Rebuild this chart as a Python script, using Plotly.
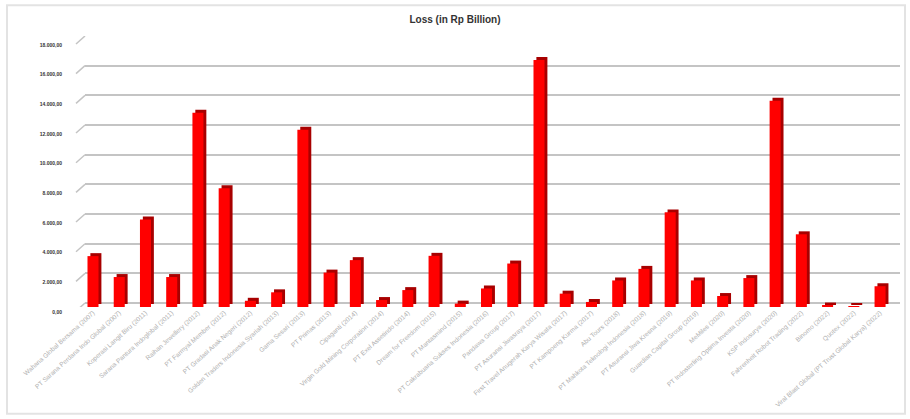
import plotly.graph_objects as go

categories = [
    "Wahana Global Bersama (2007)",
    "PT Sarana Perdana Indo Global (2007)",
    "Koperasi Langit Biru (2011)",
    "Sarana Pantura Indoglobal (2011)",
    "Raihan Jewellery (2012)",
    "PT Farmyal Member (2012)",
    "PT Gradasi Anak Negeri (2012)",
    "Golden Traders Indonesia Syariah (2013)",
    "Gama Sesari (2013)",
    "PT Primas (2013)",
    "Cipaganti (2014)",
    "Virgin Gold Mining Corporation (2014)",
    "PT Exel Assetindo (2014)",
    "Dream for Freedom (2015)",
    "PT Mantasmind (2015)",
    "PT Cakrabuana Sukses Indonesia (2016)",
    "Pandawa Group (2017)",
    "PT Asuransi Jiwasraya (2017)",
    "First Travel Anugerah Karya Wisata (2017)",
    "PT Kampoeng Kurma (2017)",
    "Abu Tours (2018)",
    "PT Mahkota Teknologi Indonesia (2018)",
    "PT Asuransi Jiwa Kresna (2019)",
    "Guardian Capital Group (2019)",
    "MeMiles (2020)",
    "PT Indosterling Optima Investa (2020)",
    "KSP Indosurya (2020)",
    "Fahrenheit Robot Trading (2022)",
    "Binomo (2022)",
    "Quotex (2022)",
    "Viral Blast Global (PT Trust Global Karya) (2022)",
]

loss = [
    3430, 2020, 5900, 2020, 13100, 8000, 420, 990, 11950, 2320,
    3160, 470, 1140, 3450, 230, 1250, 2930, 16650, 900, 340,
    1790, 2570, 6380, 1790, 740, 1950, 13900, 4900, 100, 50,
    1400,
]

y_ticks = [0, 2000, 4000, 6000, 8000, 10000, 12000, 14000, 16000, 18000]

title_text = "Loss (in Rp Billion)"

W, H = 910, 419
ML, MR, MT = 85, 10, 36
px_per_unit = 270 / (y_ticks[-1] - y_ticks[0])      # back-wall scale (30 px per step)
front_drop = 4 / px_per_unit                          # bars stand 4 px in front of wall
y_min = -front_drop
plot_h = (y_ticks[-1] - y_min) * px_per_unit
MB = H - MT - plot_h
depth_units = 3 / px_per_unit

idx = list(range(len(categories)))
x_range = [-0.305, len(categories) - 1 + 0.76]
grid_color = "#c4c4c4"

fig = go.Figure()

# dark side (depth) of each bar
fig.add_trace(go.Bar(
    x=idx, y=loss, base=y_min + depth_units,
    width=0.42, offset=-0.10,
    marker=dict(color="#a80000", line=dict(width=0)),
    hoverinfo="skip", showlegend=False,
))
# front face
fig.add_trace(go.Bar(
    x=idx, y=loss, base=y_min,
    width=0.42, offset=-0.21,
    marker=dict(color="#ff0000", line=dict(width=0)),
    name="Loss", showlegend=False,
    customdata=categories,
    hovertemplate="%{customdata}: %{y:,.2f}<extra></extra>",
))

shapes = []
for v in y_ticks:
    # 3D perspective stub at the left end of each gridline
    shapes.append(dict(
        type="line", xref="paper", yref="y",
        xsizemode="pixel", ysizemode="pixel",
        xanchor=0, yanchor=v,
        x0=-9, x1=0, y0=-8, y1=0,
        line=dict(color=grid_color, width=1.5),
        layer="above",
    ))
# outer frame
plot_w = W - ML - MR
bottom_px = H - MB
shapes.append(dict(
    type="rect", xref="paper", yref="paper",
    x0=(7 - ML) / plot_w, x1=(905 - ML) / plot_w,
    y0=(bottom_px - 418) / plot_h, y1=(bottom_px - 5) / plot_h,
    line=dict(color="#e3e3e3", width=2),
    fillcolor="rgba(255,255,255,0)",
    layer="above",
))

fig.update_layout(
    width=W, height=H,
    margin=dict(l=ML, r=MR, t=MT, b=MB),
    paper_bgcolor="white", plot_bgcolor="white",
    separators=",.",
    barmode="overlay",
    font=dict(family="Liberation Sans, Arial, sans-serif"),
    title=dict(
        text="<b>" + title_text + "</b>",
        x=0.5, xref="container", xanchor="center",
        y=1 - 19 / H, yref="container", yanchor="middle",
        font=dict(size=10, color="#333333"),
    ),
    xaxis=dict(
        range=x_range,
        tickvals=idx, ticktext=categories,
        tickangle=-42,
        tickfont=dict(size=6.5, color="#b0b0b0"),
        showgrid=False, showline=False, zeroline=False, ticks="",
        fixedrange=True,
    ),
    yaxis=dict(
        range=[y_min, y_ticks[-1]],
        tickvals=y_ticks,
        tickformat=",.2f",
        tickfont=dict(size=5, color="#333333", weight="bold"),
        ticklabelstandoff=22,
        ticklabelshift=9,
        showgrid=True, gridcolor=grid_color, gridwidth=2,
        zeroline=False, showline=False, ticks="",
    ),
    shapes=shapes,
)

fig.write_html("out.html")
